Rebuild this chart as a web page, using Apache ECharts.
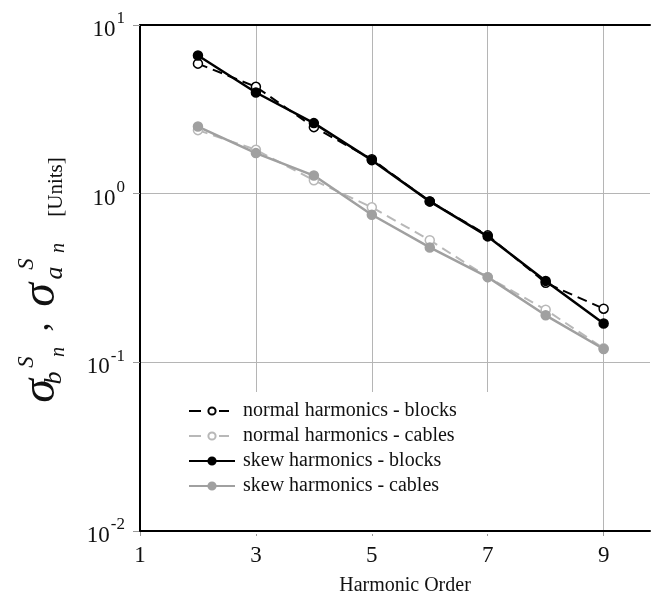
<!DOCTYPE html>
<html><head><meta charset="utf-8">
<script src="https://cdn.jsdelivr.net/npm/echarts@6/dist/echarts.min.js"></script>
<style>html,body{margin:0;padding:0;background:#fff;overflow:hidden}#c{width:651px;height:601px}</style>
</head><body><div id="c"></div>
<script>
const harmonicOrder = [2, 3, 4, 5, 6, 7, 8, 9];
const normalBlocks = [5.9, 4.3, 2.48, 1.6, 0.9, 0.566, 0.296, 0.208];
const normalCables = [2.38, 1.82, 1.2, 0.83, 0.53, 0.32, 0.205, 0.121];
const skewBlocks = [6.6, 3.98, 2.62, 1.58, 0.9, 0.558, 0.304, 0.17];
const skewCables = [2.5, 1.74, 1.28, 0.75, 0.48, 0.32, 0.19, 0.12];
const seriesNames = ['normal harmonics - blocks', 'normal harmonics - cables', 'skew harmonics - blocks', 'skew harmonics - cables'];
const xTicks = [1, 3, 5, 7, 9];

const SERIF = '"Liberation Serif", "Times New Roman", serif';
const pair = arr => harmonicOrder.map((n, i) => [n, arr[i]]);

const chart = echarts.init(document.getElementById('c'));
const mk = (name, data, color, dashed, open, width) => ({
  name, type: 'line', data: pair(data), symbol: 'circle', symbolSize: 9,
  lineStyle: { color, width, type: dashed ? [10, 6] : 'solid' },
  itemStyle: { color: open ? '#fff' : color, borderColor: color, borderWidth: 1.5 },
  emphasis: { disabled: true }, animation: false, z: 3
});
const tx = (text, x, y, size, italic) => ({
  type: 'text', x, y, rotation: Math.PI / 2,
  style: { text, fontSize: size, fontFamily: SERIF, fontStyle: italic ? 'italic' : 'normal', fill: '#111', align: 'center', verticalAlign: 'middle' }
});
const xBase = { type: 'value', min: 1, max: 9.8, interval: 2 };
const legendDash = [12, 18, 10, 6];

chart.setOption({
  animation: false,
  backgroundColor: '#fff',
  grid: { left: 140, top: 25, width: 510, height: 509, containLabel: false },
  xAxis: [Object.assign({}, xBase, {
    position: 'bottom',
    axisLine: { show: false },
    axisTick: { show: true, length: 5, lineStyle: { color: '#999' } },
    splitLine: { show: true, showMaxLine: false, showMinLine: false, lineStyle: { color: '#b5b5b5', width: 1 } },
    axisLabel: { color: '#111', fontSize: 23, fontFamily: SERIF, margin: 13, showMaxLabel: false,
      formatter: v => xTicks.includes(v) ? String(v) : '' },
    name: 'Harmonic Order', nameLocation: 'middle', nameGap: 45,
    nameTextStyle: { color: '#111', fontSize: 20, fontFamily: SERIF, padding: [0, 0, 0, 20] }
  }), Object.assign({}, xBase, {
    position: 'top',
    axisLine: { show: true, lineStyle: { color: '#000', width: 2 } },
    axisTick: { show: false }, axisLabel: { show: false }, splitLine: { show: false }
  }), Object.assign({}, xBase, {
    position: 'bottom', z: 10,
    axisLine: { show: true, onZero: false, lineStyle: { color: '#000', width: 2 } },
    axisTick: { show: false }, axisLabel: { show: false }, splitLine: { show: false }
  })],
  yAxis: {
    type: 'log', logBase: 10, min: 0.01, max: 10,
    axisLine: { show: true, lineStyle: { color: '#000', width: 2 } },
    axisTick: { show: true, length: 7, lineStyle: { color: '#999' } },
    minorTick: { show: false },
    splitLine: { show: true, lineStyle: { color: '#b5b5b5', width: 1 } },
    axisLabel: {
      margin: 15, color: '#111', fontFamily: SERIF,
      formatter: v => '{b|10}{s|' + Math.round(Math.log10(v)) + '}',
      rich: {
        b: { fontSize: 23, fontFamily: SERIF, color: '#111', padding: [10, 0, 0, 0] },
        s: { fontSize: 17, fontFamily: SERIF, color: '#111', padding: [0, 0, 12, 1] }
      }
    }
  },
  legend: {
    orient: 'vertical', left: 141, top: 392,
    padding: [9, 95, 38, 47],
    backgroundColor: '#fff',
    itemWidth: 46, itemHeight: 9, itemGap: 5,
    data: [
      { name: seriesNames[0], lineStyle: { type: legendDash } },
      { name: seriesNames[1], lineStyle: { type: legendDash } },
      { name: seriesNames[2] },
      { name: seriesNames[3] }
    ],
    textStyle: { color: '#111', fontSize: 20, lineHeight: 20, fontFamily: SERIF, padding: [0, 0, 0, 3] },
    selectedMode: false
  },
  series: [
    mk(seriesNames[0], normalBlocks, '#000', true, true, 2),
    mk(seriesNames[1], normalCables, '#b8b8b8', true, true, 2),
    mk(seriesNames[2], skewBlocks, '#000', false, false, 2.5),
    mk(seriesNames[3], skewCables, '#a0a0a0', false, false, 2.5)
  ],
  graphic: [
    tx('σ', 41, 391, 48, true),
    tx('S', 27, 362, 23, true),
    tx('b', 54, 378, 26, true),
    tx('n', 59, 352, 20, true),
    tx(',', 39, 327, 36, true),
    tx('σ', 41, 295, 48, true),
    tx('S', 27, 264, 23, true),
    tx('a', 55, 273, 26, true),
    tx('n', 59, 248, 20, true),
    tx('[Units]', 56, 187, 21, false)
  ]
});
</script>
</body></html>
